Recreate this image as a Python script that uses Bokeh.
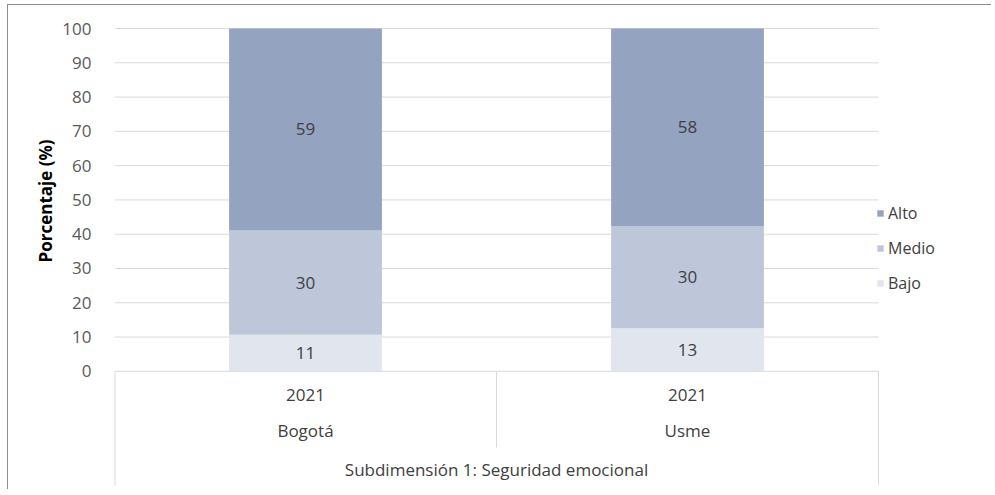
from bokeh.plotting import figure
from bokeh.models import (ColumnDataSource, Range1d, FixedTicker, Legend, LegendItem, Title)
from bokeh.core.properties import value
from bokeh.embed import file_html
from bokeh.resources import INLINE

# ---- data ----
regions = ["Bogotá", "Usme"]
years = ["2021", "2021"]
group_label = "Subdimensión 1: Seguridad emocional"
levels = ["Bajo", "Medio", "Alto"]
bajo = [10.7, 12.6]
medio = [30.4, 29.8]
alto = [58.9, 57.6]
y_ticks = [0, 10, 20, 30, 40, 50, 60, 70, 80, 90, 100]
y_title = "Porcentaje (%)"

colors = {"Bajo": "#e0e5ee", "Medio": "#bec7d9", "Alto": "#94a3bf"}
FONT = "Open Sans"
TXT = "#404040"
NUM_SIZE = "17px"
WORD_SIZE = "17px"
GRID = "#d9d9d9"

n = len(regions)
xpos = [i + 0.5 for i in range(n)]          # category slots on the x scale
source = ColumnDataSource(dict(x=xpos, region=regions, Bajo=bajo, Medio=medio, Alto=alto))

# frame spans the bars (2 slots) plus the legend area to the right
p = figure(width=984, height=485, x_range=Range1d(0, n * 876 / 764),
           y_range=Range1d(-33.3, 100.3), output_backend="svg", toolbar_location=None,
           x_axis_location=None, min_border_left=106, min_border_right=2,
           min_border_top=22, min_border_bottom=5)
p.outline_line_color = None
p.styles = {"margin-left": "7px", "margin-top": "4px",
            "border-top": "1px solid #8c8c8c", "border-left": "1px solid #8c8c8c"}

p.yaxis.ticker = FixedTicker(ticks=y_ticks)
p.yaxis.axis_line_color = None
p.yaxis.major_tick_line_color = None
p.yaxis.minor_tick_line_color = None
p.yaxis.major_label_standoff = 17
p.yaxis.major_label_text_font = FONT
p.yaxis.major_label_text_font_size = NUM_SIZE
p.yaxis.major_label_text_color = "#595959"
p.xgrid.grid_line_color = None
p.ygrid.grid_line_color = None

# y title, placed along the 0-100 span
p.add_layout(Title(text=y_title, align="left", offset=223, standoff=5,
                   text_font=FONT, text_font_size="17px", text_font_style="bold",
                   text_color="black"), "left")

# horizontal gridlines over the bar area only
p.segment(x0=[0] * len(y_ticks), x1=[n] * len(y_ticks), y0=y_ticks, y1=y_ticks,
          line_color=GRID, line_width=1)

rs = p.vbar_stack(levels, x="x", width=0.4, source=source,
                  color=[colors[l] for l in levels], line_color=None)

# data labels
lab_x, lab_y, lab_t = [], [], []
for i in range(n):
    base = 0.0
    for vals in (bajo, medio, alto):
        v = vals[i]
        lab_x.append(xpos[i])
        lab_y.append(base + v / 2)
        lab_t.append(str(int(round(v))))
        base += v
p.text(x=lab_x, y=lab_y, text=lab_t, text_align="center", text_baseline="middle",
       text_font=value(FONT), text_font_size=NUM_SIZE, text_color=TXT)

# category table below the value axis
p.segment(x0=[0], y0=[0], x1=[0], y1=[-33.3], line_color=GRID, line_width=2)
p.segment(x0=[n], y0=[0], x1=[n], y1=[-33.3], line_color=GRID, line_width=1)
p.segment(x0=list(range(1, n)), y0=[0] * (n - 1), x1=list(range(1, n)),
          y1=[-22.2] * (n - 1), line_color=GRID, line_width=1)
p.text(x=xpos, y=[-7.0] * n, text=years, text_align="center", text_baseline="middle",
       text_font=value(FONT), text_font_size=NUM_SIZE, text_color=TXT)
p.text(x=xpos, y=[-17.2] * n, text=regions, text_align="center", text_baseline="middle",
       text_font=value(FONT), text_font_size=WORD_SIZE, text_color=TXT)
p.text(x=[n / 2], y=[-28.6], text=[group_label], text_align="center", text_baseline="middle",
       text_font=value(FONT), text_font_size=WORD_SIZE, text_color=TXT)

# legend (reverse stacking order)
legend = Legend(items=[LegendItem(label=l, renderers=[rs[levels.index(l)]])
                       for l in ["Alto", "Medio", "Bajo"]],
                location=(762, 191), orientation="vertical")
legend.glyph_width = 8
legend.glyph_height = 8
legend.label_height = 22
legend.spacing = 13
legend.label_standoff = 4
legend.padding = 0
legend.margin = 0
legend.border_line_color = None
legend.background_fill_alpha = 0
legend.label_text_font = FONT
legend.label_text_font_size = "16px"
legend.label_text_color = TXT
p.add_layout(legend, "center")

open("out.html", "w").write(file_html(p, INLINE))
